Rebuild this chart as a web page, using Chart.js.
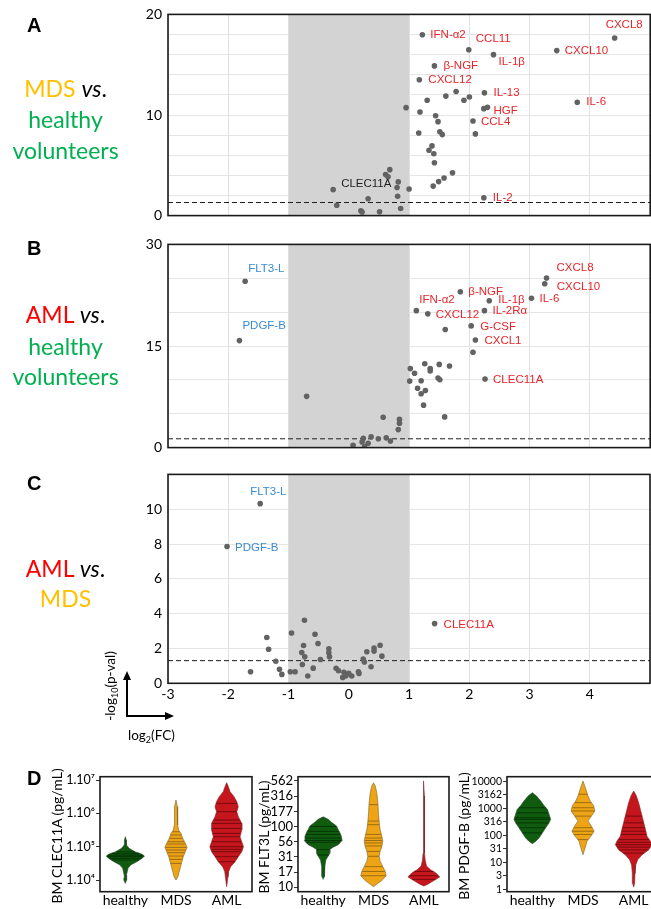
<!DOCTYPE html>
<html><head><meta charset="utf-8">
<script src="https://cdn.jsdelivr.net/npm/chart.js@4.4.1/dist/chart.umd.min.js"></script>
<style>
html,body{margin:0;padding:0;background:#fff;}
body{width:651px;height:909px;overflow:hidden;position:relative;}
canvas{position:absolute;}
svg{position:absolute;left:0;top:0;pointer-events:none;}
</style></head>
<body>
<canvas id="cA" width="523" height="230" style="left:130px;top:0px"></canvas>
<canvas id="cB" width="523" height="232" style="left:130px;top:230px"></canvas>
<canvas id="cC" width="523" height="250" style="left:130px;top:460px"></canvas>
<canvas id="cD1" width="214" height="144" style="left:40px;top:765px"></canvas>
<canvas id="cD2" width="203" height="144" style="left:248px;top:765px"></canvas>
<canvas id="cD3" width="199" height="144" style="left:460px;top:765px"></canvas>

<svg width="651" height="909">
  <g font-family="Liberation Sans, Arial, sans-serif" font-weight="bold" font-size="20" fill="#000">
    <text x="27" y="32">A</text>
    <text x="27" y="255">B</text>
    <text x="27" y="490">C</text>
    <text x="27" y="785">D</text>
  </g>
  <g font-family="Lato, sans-serif" font-size="23" text-anchor="middle">
    <text x="65.5" y="96.5"><tspan fill="#FFC000">MDS </tspan><tspan fill="#000" font-style="italic">vs</tspan><tspan fill="#000">.</tspan></text>
    <text x="65.5" y="127.5" fill="#00B050">healthy</text>
    <text x="65.5" y="158.5" fill="#00B050">volunteers</text>
    <text x="65.5" y="323"><tspan fill="#FF0000">AML </tspan><tspan fill="#000" font-style="italic">vs</tspan><tspan fill="#000">.</tspan></text>
    <text x="65.5" y="354.5" fill="#00B050">healthy</text>
    <text x="65.5" y="385" fill="#00B050">volunteers</text>
    <text x="65.5" y="576.5"><tspan fill="#FF0000">AML </tspan><tspan fill="#000" font-style="italic">vs</tspan><tspan fill="#000">.</tspan></text>
    <text x="65.5" y="606.5" fill="#FFC000">MDS</text>
  </g>
  <g font-family="Lato, sans-serif" font-size="13.5" fill="#000">
    <text transform="translate(115,686) rotate(-90)" text-anchor="middle">-log<tspan font-size="9" dy="3">10</tspan><tspan dy="-3">(p-val)</tspan></text>
    <text x="128" y="740">log<tspan font-size="9" dy="3">2</tspan><tspan dy="-3">(FC)</tspan></text>
  </g>
  <line x1="127" y1="717" x2="127" y2="679" stroke="#000" stroke-width="2"/>
  <polygon points="123,680 131,680 127,671" fill="#000"/>
  <line x1="126" y1="716" x2="166" y2="716" stroke="#000" stroke-width="2"/>
  <polygon points="165,712 165,720 174,716" fill="#000"/>
  <g font-family="Lato, sans-serif" font-size="14" fill="#000" text-anchor="middle">
    <text transform="translate(62,836) rotate(-90)">BM CLEC11A (pg/mL)</text>
    <text transform="translate(269,837) rotate(-90)">BM FLT3L (pg/mL)</text>
    <text transform="translate(469,836) rotate(-90)">BM PDGF-B (pg/mL)</text>
  </g>
</svg>

<script>
// ---------------- DATA ----------------
// Panel A: MDS vs healthy volunteers (log2 FC, -log10 p)
const aNames = ['IFN-α2','CCL11','IL-1β','CXCL10','CXCL8','β-NGF','CXCL12','','','','IL-13','','','IL-6','HGF','','','','','','CCL4','','','','','','','','','','','','','IL-2','','','','CLEC11A','','','','','','','','','',''];
const aFC    = [1.22,1.99,2.40,3.45,4.41,1.42,1.17,1.78,1.61,2.00,2.25,1.91,1.30,3.79,2.30,2.24,0.95,1.18,1.44,1.48,2.06,1.16,1.51,1.55,2.10,1.38,1.33,1.41,1.42,1.72,1.58,1.49,1.40,2.24,0.68,0.61,0.65,-0.26,0.82,0.80,1.00,0.32,0.81,-0.20,0.86,0.20,0.22,0.51];
const aLogP  = [17.97,16.49,16.00,16.40,17.65,14.88,13.50,12.34,11.88,11.79,12.20,11.47,11.47,11.27,10.76,10.63,10.73,10.30,9.92,9.34,9.40,8.21,8.34,8.05,8.12,6.93,6.50,6.15,5.25,4.25,3.74,3.38,2.93,1.77,4.57,4.09,3.86,2.58,3.35,2.80,2.64,1.67,1.93,1.03,0.71,0.48,0.36,0.39];

// Panel B: AML vs healthy volunteers
const bNames = ['FLT3-L','PDGF-B','','CXCL8','CXCL10','IL-6','β-NGF','IL-1β','IFN-α2','CXCL12','IL-2Rα','','G-CSF','CXCL1','','CLEC11A','','','','','','','','','','','','','','','','','','','','','','','','','','','','',''];
const bFC    = [-1.72,-1.815,-0.70,3.28,3.25,3.03,1.85,2.33,1.12,1.31,2.25,1.60,2.03,2.10,2.06,2.26,1.02,1.09,1.26,1.35,1.35,1.50,1.67,1.01,1.20,1.48,1.51,1.14,1.27,1.20,1.24,1.59,0.57,0.84,0.84,0.82,0.24,0.37,0.49,0.62,0.69,0.07,0.26,0.32,0.22];
const bLogP  = [24.56,15.80,7.57,25.04,24.20,22.06,23.00,21.67,20.22,19.75,20.22,17.43,17.97,15.89,14.07,10.11,11.66,10.98,12.38,11.66,11.32,12.28,12.05,9.82,9.88,10.26,10.02,8.77,8.43,7.94,6.27,4.53,4.48,4.19,3.61,2.66,1.36,1.59,1.30,1.44,0.97,0.35,0.14,0.64,0.82];

// Panel C: AML vs MDS
const cNames = ['FLT3-L','PDGF-B','CLEC11A','','','','','','','','','','','','','','','','','','','','','','','','','','','','','','','','','','','','','',''];
const cFC    = [-1.47,-2.02,1.425,-0.735,-0.95,-0.56,-1.36,-0.51,-1.33,-0.75,-0.78,-0.73,-0.33,-0.33,-0.32,-0.47,-1.21,-0.77,-0.59,-1.15,-1.11,-1.63,-0.97,-0.89,-0.68,-0.21,-0.17,-0.08,-0.05,0.00,-0.10,0.05,0.16,0.17,0.24,0.26,0.30,0.42,0.42,0.52,0.55,0.37];
const cLogP  = [10.32,7.86,3.43,3.62,2.89,2.82,2.63,2.29,1.96,2.17,1.77,1.52,1.98,1.75,1.52,1.37,1.27,1.08,0.87,0.80,0.51,0.66,0.66,0.66,0.42,0.86,0.72,0.63,0.42,0.57,0.34,0.42,0.66,0.57,1.39,1.22,1.81,2.03,1.85,2.19,1.56,0.95];

const SIG = -Math.log10(0.05); // p = 0.05 threshold

// Panel D: violins (log10 pg/mL level, relative half-width) and observations (log10 pg/mL)
const dGroups = ['healthy','MDS','AML'];

const clecHealthyLog = [3.90,4.00,4.05,4.10,4.15,4.25,4.35,4.45,4.55,4.65,4.72,4.78,4.85,4.95,5.05,5.20,5.30];
const clecHealthyDen = [0,0.08,0.08,0.04,0.06,0.10,0.14,0.28,0.60,0.88,1.00,0.85,0.50,0.20,0.06,0.05,0];
const clecMdsLog = [4.00,4.10,4.25,4.40,4.55,4.70,4.85,4.98,5.10,5.25,5.40,5.50,5.65,5.90,6.05,6.20,6.40];
const clecMdsDen = [0,0.10,0.17,0.24,0.31,0.38,0.49,0.58,0.49,0.35,0.26,0.14,0.09,0.07,0.10,0.07,0];
const clecAmlLog = [3.80,4.10,4.25,4.40,4.55,4.70,4.85,5.00,5.15,5.30,5.50,5.70,5.90,6.05,6.20,6.35,6.50,6.65,6.80,6.92];
const clecAmlDen = [0,0.07,0.10,0.21,0.44,0.61,0.79,0.88,0.79,0.70,0.79,0.79,0.61,0.53,0.61,0.53,0.39,0.18,0.09,0];
const clecHealthyObs = [4.60,4.65,4.70,4.72,4.75,4.80,4.85];
const clecMdsObs = [4.50,4.62,4.72,4.82,4.90,4.98,5.08,5.15,5.25,5.35,5.45];
const clecAmlObs = [4.55,4.70,4.85,4.92,5.00,5.15,5.30,5.40,5.55,5.70,5.80,6.05,6.30];

const flt3HealthyLog = [1.13,1.18,1.26,1.34,1.45,1.51,1.56,1.62,1.66,1.70,1.77,1.84,1.90,1.95,2.01,2.07,2.12,2.16];
const flt3HealthyDen = [0,0.07,0.07,0.09,0.14,0.26,0.35,0.35,0.53,0.79,1.00,0.96,0.88,0.79,0.70,0.44,0.26,0];
const flt3MdsLog = [1.01,1.05,1.11,1.19,1.26,1.34,1.43,1.51,1.59,1.67,1.76,1.84,1.95,2.07,2.23,2.40,2.56,2.67,2.72];
const flt3MdsDen = [0,0.17,0.44,0.67,0.62,0.49,0.35,0.30,0.35,0.44,0.49,0.44,0.35,0.30,0.26,0.23,0.17,0.09,0];
const flt3AmlLog = [1.02,1.05,1.11,1.17,1.24,1.29,1.35,1.45,1.56,2.00,2.50,2.75];
const flt3AmlDen = [0,0.21,0.53,0.84,0.62,0.35,0.14,0.07,0.04,0.035,0.03,0];
const flt3HealthyObs = [1.53,1.62,1.74,1.77,1.81,1.87,1.92,2.00];
const flt3MdsObs = [1.19,1.26,1.34,1.51,1.59,1.68,1.73,1.77,1.81,1.87,2.03,2.09,2.36];
const flt3AmlObs = [1.13,1.19,1.26];

const pdgfHealthyLog = [1.69,1.78,1.90,2.09,2.28,2.46,2.59,2.77,2.96,3.09,3.27,3.46,3.58];
const pdgfHealthyDen = [0,0.18,0.35,0.53,0.70,0.88,0.96,0.88,0.79,0.62,0.44,0.21,0];
const pdgfMdsLog = [1.28,1.53,1.78,1.99,2.15,2.34,2.53,2.71,2.90,3.09,3.27,3.46,3.64,3.83,4.01];
const pdgfMdsDen = [0,0.11,0.21,0.44,0.58,0.44,0.26,0.44,0.62,0.56,0.38,0.26,0.18,0.09,0];
const pdgfAmlLog = [0.08,0.21,0.59,0.90,1.09,1.28,1.46,1.65,1.78,1.96,2.21,2.46,2.71,2.96,3.21,3.46,3.64];
const pdgfAmlDen = [0,0.05,0.07,0.11,0.21,0.44,0.79,0.96,0.88,0.70,0.62,0.53,0.44,0.35,0.26,0.14,0];
const pdgfHealthyObs = [2.09,2.28,2.46,2.59,2.65,2.83,3.02];
const pdgfMdsObs = [1.84,2.03,2.15,2.28,2.71,2.90,3.02,3.21,3.52];
const pdgfAmlObs = [1.34,1.46,1.56,1.65,1.74,1.84,2.03,2.15,2.28,2.46,2.71];

// tick labels
const clecTickExp = [4,5,6,7];
const clecTickLabels = ['1.10⁴','1.10⁵','1.10⁶','1.10⁷'];
const flt3TickExp = [1,1.25,1.5,1.75,2,2.25,2.5,2.75];
const flt3TickLabels = ['10','17','31','56','100','177','316','562'];
const pdgfTickExp = [0,0.5,1,1.5,2,2.5,3,3.5,4];
const pdgfTickLabels = ['1','3','10','31','100','316','1000','3162','10000'];

// ---------------- STYLE ----------------
const LABEL_COLORS = {r:'#E5262B', b:'#3A8BD2', k:'#1e1e1e'};
const styleA = {'IFN-α2':[8,0,'r'],'CCL11':[7,-11,'r'],'IL-1β':[5,7,'r'],'CXCL10':[8,0,'r'],'CXCL8':[-9,-13,'r'],'β-NGF':[9,0,'r'],'CXCL12':[9,0,'r'],'IL-13':[9,0,'r'],'IL-6':[9,0,'r'],'HGF':[6,3,'r'],'CCL4':[8,1,'r'],'IL-2':[9,0,'r'],'CLEC11A':[8,-6,'k']};
const styleB = {'FLT3-L':[3,-12,'b'],'PDGF-B':[3,-15,'b'],'CXCL8':[10,-10,'r'],'CXCL10':[12,3,'r'],'IL-6':[8,1,'r'],'β-NGF':[8,0,'r'],'IL-1β':[9,-1,'r'],'IFN-α2':[3,-11,'r'],'CXCL12':[8,1,'r'],'IL-2Rα':[8,0,'r'],'G-CSF':[9,1,'r'],'CXCL1':[9,1,'r'],'CLEC11A':[8,1,'r']};
const styleC = {'FLT3-L':[-10,-12,'b'],'PDGF-B':[8,1,'b'],'CLEC11A':[9,1,'r']};
const TICK_FONT = {family:'Lato, sans-serif', size:14};

const boxPlugin = {
  id:'box',
  afterDraw(chart){
    const {ctx, chartArea:a} = chart;
    ctx.save(); ctx.strokeStyle='#1a1a1a'; ctx.lineWidth=1.6;
    ctx.strokeRect(a.left, a.top, a.right-a.left, a.bottom-a.top);
    ctx.restore();
  }
};

function volcano(id, names, fc, logp, yMax, yStep, yLabelEvery, yLabelMax, padTop, xAxisH, showX, labelStyle){
  const labelPlugin = {
    id:'ptLabels',
    afterDatasetsDraw(chart){
      const ctx = chart.ctx, meta = chart.getDatasetMeta(0);
      ctx.save();
      ctx.font = '11.5px "Liberation Sans", Arial, sans-serif';
      ctx.textBaseline = 'middle'; ctx.textAlign = 'left';
      names.forEach((n,i)=>{
        if(!n) return;
        const s = labelStyle[n], p = meta.data[i];
        ctx.fillStyle = LABEL_COLORS[s[2]];
        ctx.fillText(n, p.x + s[0], p.y + s[1]);
      });
      ctx.restore();
    }
  };
  return new Chart(document.getElementById(id), {
    type:'scatter',
    data:{datasets:[
      {data: fc.map((x,i)=>({x, y: logp[i]})), backgroundColor:'#626262', borderWidth:0, pointRadius:2.8, pointHoverRadius:2.8, order:0},
      {type:'line', showLine:true, data:[{x:-3,y:SIG},{x:5,y:SIG}], borderColor:'#1f1f1f', borderWidth:1, borderDash:[5,3], pointRadius:0, fill:false, order:1},
      {type:'line', showLine:true, data:[{x:-1,y:yMax},{x:1,y:yMax}], borderWidth:0, borderColor:'rgba(0,0,0,0)', backgroundColor:'#d3d3d3', pointRadius:0, fill:'origin', order:2}
    ]},
    options:{
      responsive:false, animation:false, devicePixelRatio:1, events:[],
      layout:{padding:{top:padTop, left:0, right:0, bottom:0}},
      plugins:{legend:{display:false}, tooltip:{enabled:false}},
      scales:{
        x:{type:'linear', min:-3, max:5,
           ticks:{stepSize:1, display:showX, color:'#000', font:TICK_FONT, padding:3, maxRotation:0, callback:v=> v<5 ? String(v) : ''},
           grid:{color:'#e1e1e1', drawTicks:false}, border:{display:false},
           afterFit:s=>{ s.height = xAxisH; }},
        y:{type:'linear', min:0, max:yMax,
           ticks:{stepSize:yStep, color:'#000', font:TICK_FONT, padding:6, callback:v=> (v % yLabelEvery === 0 && v <= yLabelMax) ? String(v) : ''},
           grid:{color:'#e6e6e6', drawTicks:false}, border:{display:false},
           afterFit:s=>{ s.width = 38; }}
      }
    },
    plugins:[labelPlugin, boxPlugin]
  });
}

volcano('cA', aNames, aFC, aLogP, 20, 2, 10, 20, 13.3, 10, false, styleA);
volcano('cB', bNames, bFC, bLogP, 30, 5, 15, 30, 14, 10.3, false, styleB);
volcano('cC', cNames, cFC, cLogP, 12, 2, 2, 10, 13.3, 26.7, true, styleC);

// ---------------- VIOLINS ----------------
const HW = 0.377; // half-width (x units) for relative density 1
const VCOL = [
  {fill:'#0f5c0f', edge:'rgba(50,70,50,0.6)', stripe:'#063606'},
  {fill:'#eea414', edge:'rgba(120,100,50,0.6)', stripe:'#9b6d14'},
  {fill:'#c5151d', edge:'rgba(120,40,40,0.6)', stripe:'#780a0e'}
];
function interp(lv, dn, v){
  for(let i=0;i<lv.length-1;i++){
    if(v>=lv[i] && v<=lv[i+1]){ const t=(v-lv[i])/(lv[i+1]-lv[i]); return dn[i]+t*(dn[i+1]-dn[i]); }
  }
  return 0;
}
function violin(id, outlines, obs, yMinE, yMaxE, tickE, tickLbl, yW, padR, tickSize){
  const datasets = [];
  outlines.forEach(([lv, dn], g)=>{
    const c = g + 1;
    const left = lv.map((l,i)=>({x:c - dn[i]*HW, y:Math.pow(10,l)}));
    const right = lv.map((l,i)=>({x:c + dn[i]*HW, y:Math.pow(10,l)})).reverse();
    datasets.push({type:'line', data:left.concat(right), fill:'shape', backgroundColor:VCOL[g].fill, borderColor:VCOL[g].edge, borderWidth:1, pointRadius:0, tension:0, order:2});
    const st = [];
    obs[g].forEach(o=>{
      const w = interp(lv, dn, o)*HW*0.96;
      st.push({x:c-w, y:Math.pow(10,o)}, {x:c+w, y:Math.pow(10,o)}, {x:c, y:null});
    });
    datasets.push({type:'line', data:st, borderColor:VCOL[g].stripe, borderWidth:1, pointRadius:0, fill:false, spanGaps:false, order:1});
  });
  return new Chart(document.getElementById(id), {
    type:'line',
    data:{datasets},
    options:{
      responsive:false, animation:false, devicePixelRatio:1, events:[],
      layout:{padding:{top:11.7, left:0, right:padR, bottom:0}},
      plugins:{legend:{display:false}, tooltip:{enabled:false}},
      scales:{
        x:{type:'linear', min:0.5, max:3.5,
           afterBuildTicks:s=>{ s.ticks = [1,2,3].map(v=>({value:v})); },
           ticks:{color:'#000', font:{family:'Lato, sans-serif', size:14}, padding:0, maxRotation:0, autoSkip:false, callback:(v,i)=> dGroups[i]},
           grid:{display:false, drawTicks:false}, border:{display:false},
           afterFit:s=>{ s.height = 17.3; }},
        y:{type:'logarithmic', min:Math.pow(10,yMinE), max:Math.pow(10,yMaxE),
           afterBuildTicks:s=>{ s.ticks = tickE.map(e=>({value:Math.pow(10,e)})); },
           ticks:{color:'#000', font:{family:'Lato, sans-serif', size:tickSize}, padding:1, autoSkip:false, callback:(v,i)=> tickLbl[i]},
           grid:{display:true, drawOnChartArea:false, drawTicks:true, tickLength:4, color:'#333'},
           border:{display:false},
           afterFit:s=>{ s.width = yW; }}
      }
    },
    plugins:[boxPlugin]
  });
}

violin('cD1', [[clecHealthyLog,clecHealthyDen],[clecMdsLog,clecMdsDen],[clecAmlLog,clecAmlDen]],
       [clecHealthyObs, clecMdsObs, clecAmlObs], 3.65, 7.10, clecTickExp, clecTickLabels, 60, 2, 12.5);
violin('cD2', [[flt3HealthyLog,flt3HealthyDen],[flt3MdsLog,flt3MdsDen],[flt3AmlLog,flt3AmlDen]],
       [flt3HealthyObs, flt3MdsObs, flt3AmlObs], 0.927, 2.82, flt3TickExp, flt3TickLabels, 50, 2, 13);
violin('cD3', [[pdgfHealthyLog,pdgfHealthyDen],[pdgfMdsLog,pdgfMdsDen],[pdgfAmlLog,pdgfAmlDen]],
       [pdgfHealthyObs, pdgfMdsObs, pdgfAmlObs], -0.09, 4.17, pdgfTickExp, pdgfTickLabels, 47, 0, 10.5);
</script>
</body></html>
